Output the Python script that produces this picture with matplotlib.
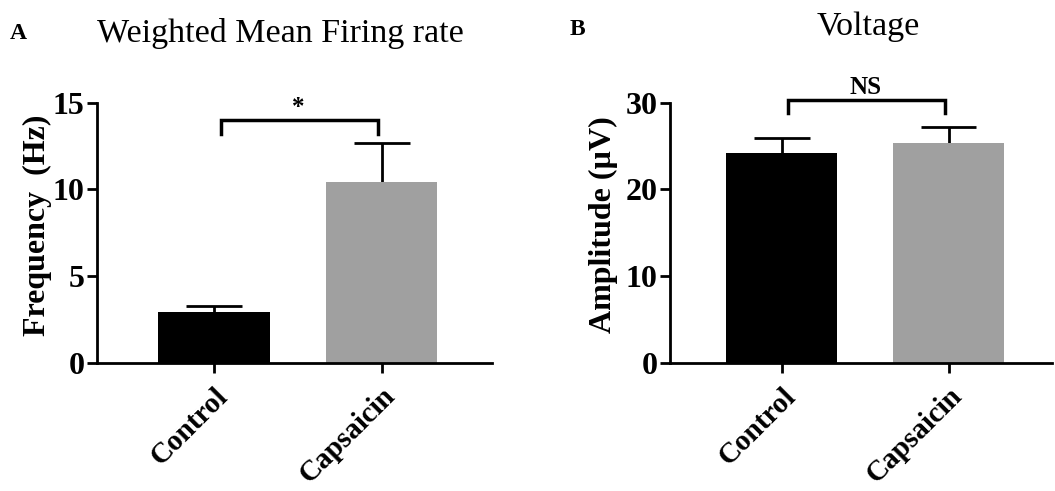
import matplotlib
matplotlib.use("Agg")
import matplotlib.pyplot as plt

categories = ["Control", "Capsaicin"]
freq_mean = [2.95, 10.45]
freq_err = [0.35, 2.25]
amp_mean = [24.25, 25.4]
amp_err = [1.65, 1.8]
colors = ["#000000", "#a0a0a0"]

plt.rcParams['font.family'] = ['Liberation Serif', 'DejaVu Serif']

fig = plt.figure(figsize=(10.55, 4.91), dpi=100)

def panel(rect, means, errs, ylim, yticks, ylabel, xlim, bracket, sig, label_x):
    ax = fig.add_axes(rect)
    x = [0, 1]
    ax.bar(x, means, width=0.665, color=colors, zorder=2)
    tops = [m + e for m, e in zip(means, errs)]
    ax.vlines(x, means, tops, color='black', lw=2, zorder=1)
    ax.hlines(tops, [xi - 0.167 for xi in x], [xi + 0.167 for xi in x],
              color='black', lw=2, zorder=1)
    ax.set_xlim(*xlim)
    ax.set_ylim(*ylim)
    ax.set_yticks(yticks)
    ax.set_xticks(x)
    ax.set_xticklabels(categories, rotation=45, ha='right', rotation_mode='anchor',
                       fontsize=21, fontweight='bold')
    for lab in ax.get_yticklabels():
        lab.set_fontsize(23)
        lab.set_fontweight('bold')
    ax.set_ylabel(ylabel, fontsize=23, fontweight='bold')
    ax.yaxis.set_label_coords(label_x, 0.53)
    for s in ['top', 'right']:
        ax.spines[s].set_visible(False)
    for s in ['left', 'bottom']:
        ax.spines[s].set_linewidth(2)
    ax.spines['left'].set_bounds(ylim[0], yticks[-1])
    ax.tick_params(axis='y', width=2, length=7, pad=2)
    ax.tick_params(axis='x', width=2, length=7, pad=7)
    y1, y0 = bracket
    ax.plot([0.04, 0.04, 0.98, 0.98], [y0, y1, y1, y0], color='black', lw=2.5,
            clip_on=False, solid_joinstyle='miter')
    ax.text(0.5, y1 + (ylim[1] - ylim[0]) * 0.005, sig, ha='center', va='bottom',
            fontsize=18, fontweight='bold')
    return ax

axA = panel([0.0919, 0.2607, 0.3745, 0.5301], freq_mean, freq_err, (0, 15),
            [0, 5, 10, 15], "Frequency  (Hz)", (-0.70, 1.66), (14.0, 13.2), "*", -0.115)
axB = panel([0.6351, 0.2607, 0.3621, 0.5301], amp_mean, amp_err, (0, 30),
            [0, 10, 20, 30], "Amplitude (\u00b5V)", (-0.67, 1.62), (30.3, 28.8), "NS", -0.135)

fig.text(0.266, 0.932, "Weighted Mean Firing rate", ha='center', va='center', fontsize=24.5)
fig.text(0.823, 0.945, "Voltage", ha='center', va='center', fontsize=24.5)
fig.text(0.009, 0.932, "A", ha='left', va='center', fontsize=17, fontweight='bold')
fig.text(0.540, 0.940, "B", ha='left', va='center', fontsize=17, fontweight='bold')

fig.savefig("out.png", dpi=100)
